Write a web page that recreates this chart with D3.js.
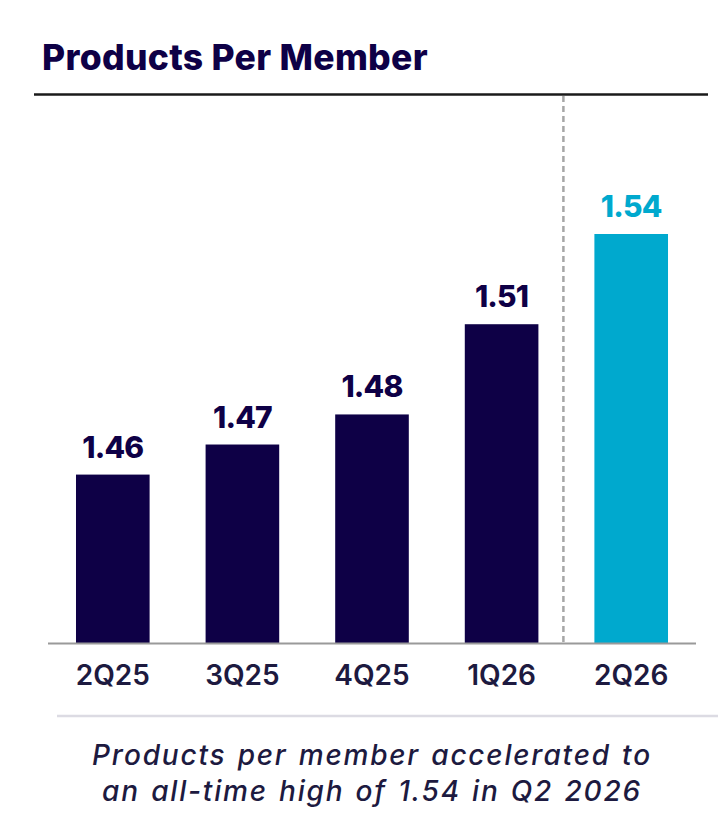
<!DOCTYPE html>
<html>
<head>
<meta charset="utf-8">
<script src="https://cdn.jsdelivr.net/npm/d3@7"></script>
<style>
  body { margin: 0; background: #fff; }
  text { font-family: Inter, "Noto Sans", sans-serif; }
</style>
</head>
<body>
<div id="wrapper"></div>
<script>
// data
const quarters = ["2Q25", "3Q25", "4Q25", "1Q26", "2Q26"]
const productsPerMember = [1.46, 1.47, 1.48, 1.51, 1.54]
const highlightQuarter = "2Q26"
const titleText = "Products Per Member"
const captionLines = [
  "Products per member accelerated to",
  "an all-time high of 1.54 in Q2 2026"
]

const navy = "#0e0046"
const cyan = "#00a9ce"
const textNavy = "#1d1a40"

// chart dimensions
const dimensions = {
  width: 718,
  height: 838,
  margin: { top: 96, right: 22, bottom: 193, left: 48 }
}
dimensions.boundedWidth = dimensions.width - dimensions.margin.left - dimensions.margin.right
dimensions.boundedHeight = dimensions.height - dimensions.margin.top - dimensions.margin.bottom

const wrapper = d3.select("#wrapper")
  .append("svg")
    .attr("width", dimensions.width)
    .attr("height", dimensions.height)

// title + rule
wrapper.append("text")
    .attr("x", 42)
    .attr("y", 70)
    .attr("fill", navy)
    .style("font-size", "35.5px")
    .style("font-weight", 800)
    .style("letter-spacing", "0.3px")
    .text(titleText)

wrapper.append("line")
    .attr("x1", 34)
    .attr("x2", 708)
    .attr("y1", 94.5)
    .attr("y2", 94.5)
    .attr("stroke", "#1a1a1a")
    .attr("stroke-width", 2.5)

const bounds = wrapper.append("g")
    .attr("transform", `translate(${dimensions.margin.left},${dimensions.margin.top})`)

// scales
const xScale = d3.scaleBand()
  .domain(quarters)
  .range([0, dimensions.boundedWidth])
  .paddingInner(0.432)
  .paddingOuter(0.216)

const yScale = d3.scaleLinear()
  .domain([1.404, 1.54])
  .range([dimensions.boundedHeight - 2, 138])

const baseY = yScale(1.404)
const data = quarters.map((q, i) => ({ q, v: productsPerMember[i] }))

// dashed divider before the highlighted quarter
const divX = xScale(highlightQuarter) - xScale.step() * xScale.paddingInner() / 2 - 3
bounds.append("line")
    .attr("x1", divX)
    .attr("x2", divX)
    .attr("y1", 0)
    .attr("y2", baseY + 3)
    .attr("stroke", "#a6a6a6")
    .attr("stroke-width", 2.5)
    .attr("stroke-dasharray", "6 4")

// bars
bounds.selectAll(".bar")
  .data(data)
  .join("rect")
    .attr("class", "bar")
    .attr("x", d => xScale(d.q))
    .attr("width", xScale.bandwidth())
    .attr("y", d => yScale(d.v))
    .attr("height", d => baseY - yScale(d.v))
    .attr("fill", d => d.q === highlightQuarter ? cyan : navy)

// value labels
bounds.selectAll(".value")
  .data(data)
  .join("text")
    .attr("class", "value")
    .attr("x", d => xScale(d.q) + xScale.bandwidth() / 2)
    .attr("y", d => yScale(d.v) - 17)
    .attr("text-anchor", "middle")
    .attr("fill", d => d.q === highlightQuarter ? cyan : navy)
    .style("font-size", "30px")
    .style("font-weight", 800)
    .style("letter-spacing", "-0.8px")
    .text(d => d3.format(".2f")(d.v))

// x axis baseline
bounds.append("line")
    .attr("x1", 0)
    .attr("x2", dimensions.boundedWidth)
    .attr("y1", baseY + 0.5)
    .attr("y2", baseY + 0.5)
    .attr("stroke", "#9a9a9a")
    .attr("stroke-width", 2)

const xAxis = d3.axisBottom(xScale).tickSize(0).tickPadding(0)
bounds.append("g")
    .attr("transform", `translate(0,${baseY})`)
    .call(xAxis)
    .call(g => g.select(".domain").remove())
    .call(g => g.selectAll("text")
      .attr("dy", null)
      .attr("y", 42)
      .attr("fill", textNavy)
      .style("font-family", "Inter, sans-serif")
      .style("font-size", "28px")
      .style("font-weight", 600))

// lower separator
wrapper.append("line")
    .attr("x1", 57)
    .attr("x2", 718)
    .attr("y1", 716)
    .attr("y2", 716)
    .attr("stroke", "#dcdbe3")
    .attr("stroke-width", 2.5)

// caption
wrapper.append("text")
    .attr("text-anchor", "middle")
    .attr("fill", textNavy)
    .style("font-size", "28px")
    .style("font-weight", 500)
    .style("font-style", "italic")
    .style("letter-spacing", "1.8px")
    .style("word-spacing", "2px")
    .selectAll("tspan")
    .data(captionLines)
    .join("tspan")
      .attr("x", 372)
      .attr("y", (d, i) => 765 + i * 36)
      .text(d => d)
</script>
</body>
</html>
